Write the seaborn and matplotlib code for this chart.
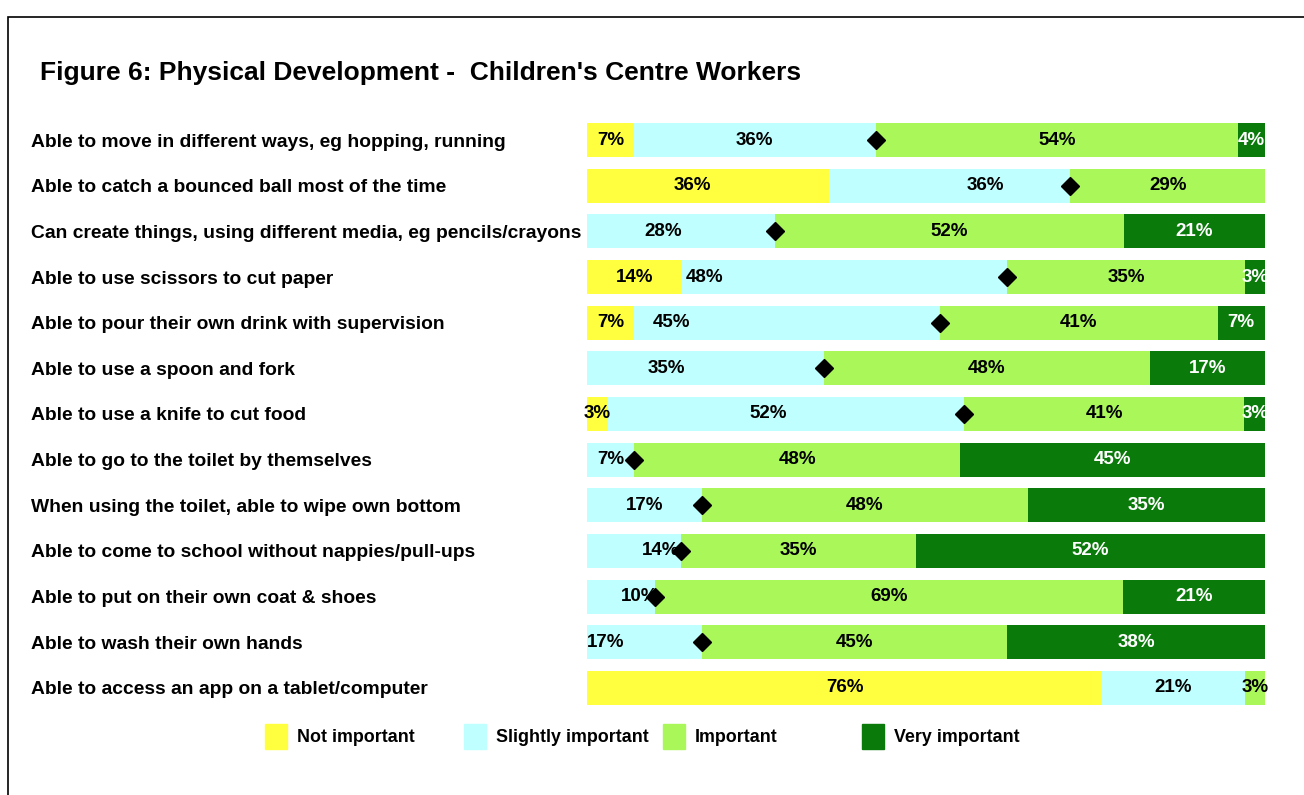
import numpy as np
import pandas as pd
import matplotlib
matplotlib.use('Agg')
import matplotlib.pyplot as plt
from matplotlib.patches import Rectangle
import seaborn as sns

# ---------------- data ----------------
skills = [
    "Able to move in different ways, eg hopping, running",
    "Able to catch a bounced ball most of the time",
    "Can create things, using different media, eg pencils/crayons",
    "Able to use scissors to cut paper",
    "Able to pour their own drink with supervision",
    "Able to use a spoon and fork",
    "Able to use a knife to cut food",
    "Able to go to the toilet by themselves",
    "When using the toilet, able to wipe own bottom",
    "Able to come to school without nappies/pull-ups",
    "Able to put on their own coat & shoes",
    "Able to wash their own hands",
    "Able to access an app on a tablet/computer",
]
not_important      = [7, 36, 0, 14, 7, 0, 3, 0, 0, 0, 0, 0, 76]
slightly_important = [36, 36, 28, 48, 45, 35, 52, 7, 17, 14, 10, 17, 21]
important          = [54, 29, 52, 35, 41, 48, 41, 48, 48, 35, 69, 45, 3]
very_important     = [4, 0, 21, 3, 7, 17, 3, 45, 35, 52, 21, 38, 0]

series_names = ["Not important", "Slightly important", "Important", "Very important"]
series_colors = ["#FFFF40", "#C0FFFF", "#AAF75A", "#0A7A0A"]
label_colors = ["black", "black", "black", "white"]

# a few labels in the original sit off-centre (row, series) -> x in %
label_x_override = {(1, 0): 15.5, (1, 1): 58.7, (2, 1): 11.2, (3, 1): 17.4,
                    (4, 1): 12.5, (5, 1): 11.7, (9, 1): 10.8, (10, 1): 7.8,
                    (11, 1): 2.8, (6, 1): 26.8}

df = pd.DataFrame({
    "skill": skills,
    series_names[0]: not_important,
    series_names[1]: slightly_important,
    series_names[2]: important,
    series_names[3]: very_important,
})
vals = df[series_names].to_numpy(dtype=float)
scaled = vals / vals.sum(axis=1, keepdims=True) * 100   # rounded labels don't always add to 100
cum = np.cumsum(scaled, axis=1)

# ---------------- plot ----------------
sns.set_style("white")
plt.rcParams['font.family'] = ['Liberation Sans', 'DejaVu Sans']
plt.rcParams['font.weight'] = 'bold'
plt.rcParams['text.color'] = 'black'
plt.rcParams['ytick.labelcolor'] = 'black'

fig = plt.figure(figsize=(13.04, 7.95), dpi=100)
ax = fig.add_axes([587 / 1304, 0.1059, 678 / 1304, 0.7467])

# draw cumulative bars back to front so each layer covers the next
for k in range(3, -1, -1):
    plot_df = pd.DataFrame({"skill": skills, "x": cum[:, k]})
    sns.barplot(data=plot_df, y="skill", x="x", orient="h", color=series_colors[k],
                width=0.75, saturation=1, ax=ax, order=skills, linewidth=0)

# diamond at the slightly/important boundary (not visible on the last row in the original)
ax.plot(cum[:-1, 1], np.arange(len(skills) - 1), linestyle="none", marker="D",
        markersize=9, color="black", zorder=5)

for i in range(len(skills)):
    start = 0.0
    for k in range(4):
        w = scaled[i, k]
        if vals[i, k] > 0:
            x = label_x_override.get((i, k), start + w / 2)
            ax.text(x, i, f"{int(vals[i, k])}%", ha="center", va="center",
                    fontsize=13.5, fontweight="bold", color=label_colors[k], zorder=6)
        start += w

ax.set_xlim(0, 100)
ax.set_ylim(len(skills) - 0.5, -0.5)
ax.set_xlabel("")
ax.set_ylabel("")
ax.set_xticks([])
for s in ax.spines.values():
    s.set_visible(False)
ax.tick_params(axis="y", length=0, pad=(587 - 31) * 0.72)
for t in ax.get_yticklabels():
    t.set_horizontalalignment("left")
    t.set_fontsize(13.85)
    t.set_fontweight("bold")
    t.set_color("black")

fig.text(40 / 1304, 1 - 73 / 795, "Figure 6: Physical Development -  Children's Centre Workers",
         fontsize=19, fontweight="bold", va="center", ha="left", color="black")

# legend with evenly spaced entries like the original
for k, name in enumerate(series_names):
    x0 = (265 + 199 * k) / 1304
    fig.add_artist(Rectangle((x0, 1 - 749 / 795), 22 / 1304, 25 / 795,
                             transform=fig.transFigure, color=series_colors[k]))
    fig.text(x0 + 32 / 1304, 1 - 737 / 795, name, fontsize=12.9, fontweight="bold",
             va="center", ha="left", color="black")

# outer frame (runs off the right and bottom edges)
fig.add_artist(Rectangle((8 / 1304, -0.1), 1.2, 1 - 17 / 795 + 0.1, transform=fig.transFigure,
                         fill=False, edgecolor="black", linewidth=1.2))

plt.savefig("out.png", dpi=100)
